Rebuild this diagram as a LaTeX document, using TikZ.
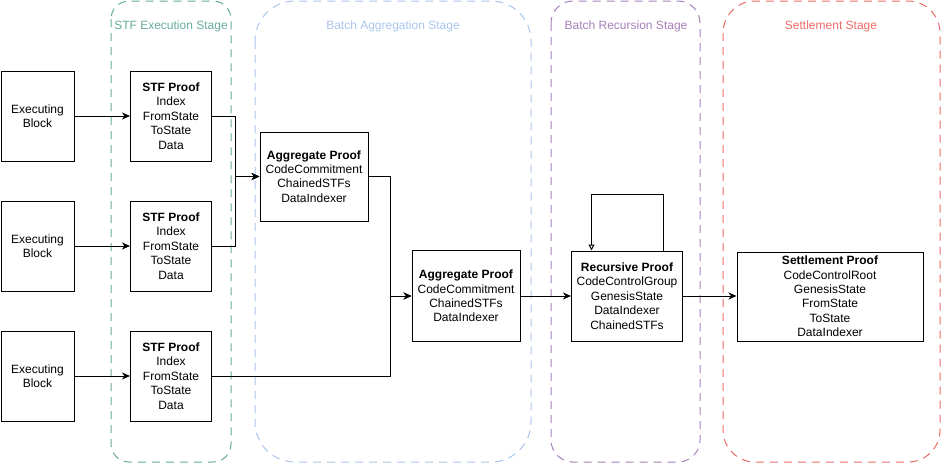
\documentclass[tikz,border=0pt]{standalone}
\usepackage{fontspec}
\setmainfont{Liberation Sans}
\usetikzlibrary{arrows.meta,calc}
\definecolor{stfc}{HTML}{67AB9F}
\definecolor{aggc}{HTML}{A9C4EB}
\definecolor{recc}{HTML}{A680B8}
\definecolor{setc}{HTML}{EA6B66}
\tikzset{
  stage/.style={draw=#1, line width=1pt, dash pattern=on 8pt off 6pt},
  stagetitle/.style={text=#1, font=\fontsize{12}{14.4}\selectfont, inner sep=0pt},
  box/.style={draw=black, line width=1pt, fill=white, align=center, inner sep=0pt,
    font=\fontsize{12}{14.4}\selectfont, minimum height=90pt},
  conn/.style={draw=black, line width=1pt, -{Stealth[length=8pt,width=7pt,inset=2.5pt]}},
  loopconn/.style={draw=black, line width=1pt, -{Triangle[open,length=6pt,width=6pt]}}
}
\begin{document}
\begin{tikzpicture}[x=1pt,y=-1pt]
\useasboundingbox (0,0) rectangle (941,463);
% stages
\draw[stage=stfc, rounded corners=18pt] (111,1) rectangle (231,462);
\draw[stage=aggc, rounded corners=40pt] (255,1) rectangle (531,462);
\draw[stage=recc, rounded corners=22pt] (551,1) rectangle (700,462);
\draw[stage=setc, rounded corners=32pt] (723,1) rectangle (940,462);
\node[stagetitle=stfc] (t1) at (171,26) {STF Execution Stage};
\node[stagetitle=aggc] (t2) at (393,26) {Batch Aggregation Stage};
\node[stagetitle=recc] (t3) at (626,26) {Batch Recursion Stage};
\node[stagetitle=setc] (t4) at (831,26) {Settlement Stage};
% executing blocks
\node[box, minimum width=73pt] (ex1) at (37.5,116) {Executing\\Block};
\node[box, minimum width=73pt] (ex2) at (37.5,246) {Executing\\Block};
\node[box, minimum width=73pt] (ex3) at (37.5,376) {Executing\\Block};
% stf proofs
\node[box, minimum width=81pt] (stf1) at (171,116) {\textbf{STF Proof}\\Index\\FromState\\ToState\\Data};
\node[box, minimum width=81pt] (stf2) at (171,246) {\textbf{STF Proof}\\Index\\FromState\\ToState\\Data};
\node[box, minimum width=81pt] (stf3) at (171,376) {\textbf{STF Proof}\\Index\\FromState\\ToState\\Data};
% aggregate
\node[box, minimum width=108pt, minimum height=89pt] (agg1) at (314,176.5) {\textbf{Aggregate Proof}\\CodeCommitment\\ChainedSTFs\\DataIndexer};
\node[box, minimum width=108pt, minimum height=91pt] (agg2) at (466,296) {\textbf{Aggregate Proof}\\CodeCommitment\\ChainedSTFs\\DataIndexer};
% recursive
\node[box, minimum width=111pt] (rec) at (627,296) {\textbf{Recursive Proof}\\CodeControlGroup\\GenesisState\\DataIndexer\\ChainedSTFs};
% settlement
\node[box, minimum width=186pt, minimum height=89pt] (set) at (830,296.5) {\textbf{Settlement Proof}\\CodeControlRoot\\GenesisState\\FromState\\ToState\\DataIndexer};
% junctions
\coordinate (j1) at (235,176.5);
\coordinate (j2) at (390,296);
% connectors
\draw[conn] (ex1) -- (stf1);
\draw[conn] (ex2) -- (stf2);
\draw[conn] (ex3) -- (stf3);
\draw[conn] (stf1.east) -| (j1) -- (agg1.west);
\draw[conn] (stf2.east) -| (j1) -- (agg1.west);
\draw[conn] (agg1.east) -| (j2) -- (agg2.west);
\draw[conn] (stf3.east) -| (j2) -- (agg2.west);
\draw[conn] (agg2) -- (rec);
\draw[conn] (rec.east) -- (rec.east -| set.west);
\draw[loopconn] ($(rec.north east)+(-19.5,0)$) -- ++(0,-56) -| ($(rec.north west)+(20.5,0)$);
\end{tikzpicture}
\end{document}
